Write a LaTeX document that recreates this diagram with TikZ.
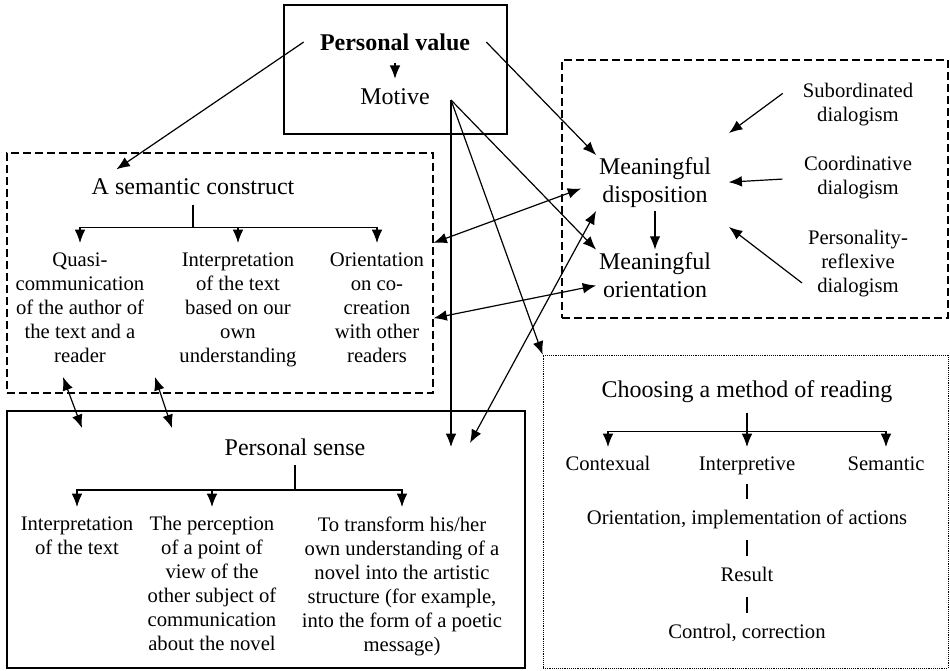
\documentclass[tikz,border=0pt]{standalone}
\usepackage{fontspec}
\setmainfont{Liberation Serif}
\usetikzlibrary{arrows.meta,positioning,fit,calc}

\begin{document}
\begin{tikzpicture}[
    x=0.75pt, y=-0.75pt,
    every node/.style={inner sep=2pt},
    big/.style={font=\fontsize{18}{21}\selectfont, align=center},
    small/.style={font=\fontsize{15.5}{18}\selectfont, align=center},
    head/.style={big, inner ysep=7pt},
    kid/.style={small, anchor=north, inner ysep=7pt},
    stage/.style={small, inner ysep=8pt, text depth=3.5pt},
    solidbox/.style={draw, line width=0.9pt, inner sep=0pt},
    dashbox/.style={draw, line width=0.8pt, dash pattern=on 6pt off 3pt, inner sep=0pt},
    dotbox/.style={draw, line width=0.5pt, dash pattern=on 0.6pt off 0.8pt, inner sep=0pt},
    line/.style={draw, line width=0.9pt, -{Latex[length=10pt,width=8pt]}},
    dline/.style={draw, line width=0.9pt, {Latex[length=10pt,width=8pt]}-{Latex[length=10pt,width=8pt]}},
    plain/.style={draw, line width=0.9pt}
]
\useasboundingbox (0,0) rectangle (950,671);

% Frames
\node [solidbox, fit={(284,5) (507,134)}] (valbox) {};
\node [dashbox, fit={(7,153) (433,393)}] (sembox) {};
\node [dashbox, fit={(562,60) (948,318)}] (meanbox) {};
\node [solidbox, fit={(7,411) (525,668)}] (sensebox) {};
\node [dotbox, fit={(543,355) (948,668)}] (readbox) {};

% Value and motive
\node [big, font=\fontsize{18}{21}\selectfont\bfseries, inner xsep=12pt] (value) at (395,42) {Personal value};
\node [big, below=24pt of value] (motive) {Motive};

% Semantic construct
\node [head] (sem) at (193,187) {A semantic construct};
\node [kid] (quasi) at (80,243) {Quasi-\\communication\\of the author of\\the text and a\\reader};
\node [kid] (interp) at (238,243) {Interpretation\\of the text\\based on our\\own\\understanding};
\node [kid] (cocreat) at (377,243) {Orientation\\on co-\\creation\\with other\\readers};

% Meaningful disposition and orientation
\node [big] (disp) at (655,183) {Meaningful\\disposition};
\node [big, below=29pt of disp] (orient) {Meaningful\\orientation};
\node [small] (subord) at (858,105) {Subordinated\\dialogism};
\node [small] (coord) at (858,178) {Coordinative\\dialogism};
\node [small] (reflex) at (858,264) {Personality-\\reflexive\\dialogism};

% Personal sense
\node [head] (sense) at (295,447) {Personal sense};
\node [kid] (sense1) at (77,507) {Interpretation\\of the text};
\node [kid] (sense2) at (212,507) {The perception\\of a point of\\view of the\\other subject of\\communication\\about the novel};
\node [kid] (sense3) at (402,507) {To transform his/her\\own understanding of a\\novel into the artistic\\structure (for example,\\into the form of a poetic\\message)};

% Method of reading
\node [head] (reading) at (747,392) {Choosing a method of reading};
\node [kid] (contex) at (608,447) {Contexual};
\node [kid] (interpr) at (747,447) {Interpretive};
\node [kid] (semant) at (886,447) {Semantic};
\node [stage, below=11pt of interpr] (action) {Orientation, implementation of actions};
\node [stage, below=12pt of action] (result) {Result};
\node [stage, below=12pt of result] (control) {Control, correction};

% Trees
\draw [line] (sem.south) -- ++(0,23) -| (quasi.north);
\draw [line] (sem.south) -- ++(0,23) -| (interp.north);
\draw [line] (sem.south) -- ++(0,23) -| (cocreat.north);
\draw [line] (sense.south) -- ++(0,25) -| (sense1.north);
\draw [line] (sense.south) -- ++(0,25) -| (sense2.north);
\draw [line] (sense.south) -- ++(0,25) -| (sense3.north);
\draw [line] (reading.south) -- ++(0,19) -| (contex.north);
\draw [line] (reading.south) -- ++(0,19) -| (interpr.north);
\draw [line] (reading.south) -- ++(0,19) -| (semant.north);
\draw [plain] (interpr) -- (action);
\draw [plain] (action) -- (result);
\draw [plain] (result) -- (control);
\draw [line] (disp) -- (orient);

% Links from value and motive
\draw [line, shorten <=7pt, shorten >=5pt] (value.south) -- (motive.north);
\draw [line] (value.west) -- (sem.167);
\draw [line] (value.east) -- (disp.north west);
\coordinate (hub) at (451,100);
\coordinate (senseA) at (451,447);
\coordinate (senseB) at (470,443);
\draw [line] (hub) -- (senseA);
\draw [line] (hub) -- (orient.north west);
\draw [line] (hub) -- (readbox.north west);

% Two-way links
\draw [dline, shorten >=12pt] ($(sembox.north east)!0.375!(sembox.south east)$) -- (disp.west);
\draw [dline] ($(sembox.north east)!0.6875!(sembox.south east)$) -- (orient.190);
\draw [dline] (senseB) -- (disp.south west);
\coordinate (semA) at (63,377);
\coordinate (semB) at (155,377);
\coordinate (senseC) at (82,428);
\coordinate (senseD) at (172,428);
\draw [dline] (semA) -- (senseC);
\draw [dline] (semB) -- (senseD);

% Dialogism
\coordinate (subtip) at (729,133);
\coordinate (reftip) at (729,227);
\draw [line, shorten <=16pt] (subord.north west) -- (subtip);
\draw [line, shorten <=14pt, shorten >=11pt] (coord.west) -- (disp.east);
\draw [line, shorten <=3pt] (reflex.202) -- (reftip);

\end{tikzpicture}
\end{document}
